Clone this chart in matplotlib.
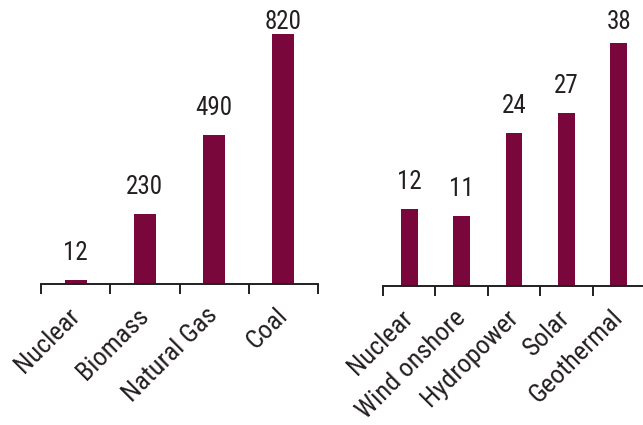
import matplotlib.pyplot as plt
from matplotlib.ticker import FixedLocator

plt.rcParams['font.family'] = ['Roboto Condensed', 'Archivo Narrow', 'DejaVu Sans']

# fossil / thermal sources (left panel)
fossil_labels = ['Nuclear', 'Biomass', 'Natural Gas', 'Coal']
fossil_values = [12, 230, 490, 820]

# low-carbon sources (right panel)
renew_labels = ['Nuclear', 'Wind onshore', 'Hydropower', 'Solar', 'Geothermal']
renew_values = [12, 11, 24, 27, 38]

BAR = '#7a073c'
INK = '#231f20'
W, H = 643, 425


def draw_panel(ax, labels, values, ymax):
    n = len(labels)
    xs = list(range(n))
    ax.bar(xs, values, width=0.32, color=BAR)
    ax.set_xlim(-0.5, n - 0.5)
    ax.set_ylim(0, ymax)
    for s in ['top', 'right', 'left']:
        ax.spines[s].set_visible(False)
    ax.spines['bottom'].set_color(INK)
    ax.spines['bottom'].set_linewidth(1.4)
    ax.set_yticks([])
    # boundary ticks between categories, labels at bar centres
    ax.xaxis.set_minor_locator(FixedLocator([i - 0.5 for i in range(n + 1)]))
    ax.tick_params(axis='x', which='minor', length=7, width=1.4, color=INK)
    ax.set_xticks(xs)
    ax.set_xticklabels(labels, rotation=45, ha='right', va='center',
                       rotation_mode='anchor', fontsize=19, color=INK)
    ax.tick_params(axis='x', which='major', length=0, pad=20)
    ax.patch.set_alpha(0)


def value_labels(ax, values):
    # value above each bar, kept below the top edge of the figure
    for x, v in enumerate(values):
        px, py = ax.transData.transform((x, v))
        base = min(py + 20, H - 29)
        fig.text(px, base, str(v), transform=None, ha='center', va='baseline',
                 fontsize=18, color=INK)


fig = plt.figure(figsize=(W / 100, H / 100), dpi=100)

ax1 = fig.add_axes([41 / W, 141 / H, 277 / W, 250 / H])
draw_panel(ax1, fossil_labels, fossil_values, 820)

ax2 = fig.add_axes([383 / W, 139 / H, 262 / W, 243 / H])
draw_panel(ax2, renew_labels, renew_values, 38)

value_labels(ax1, fossil_values)
value_labels(ax2, renew_values)

fig.savefig('out.png', dpi=100)
